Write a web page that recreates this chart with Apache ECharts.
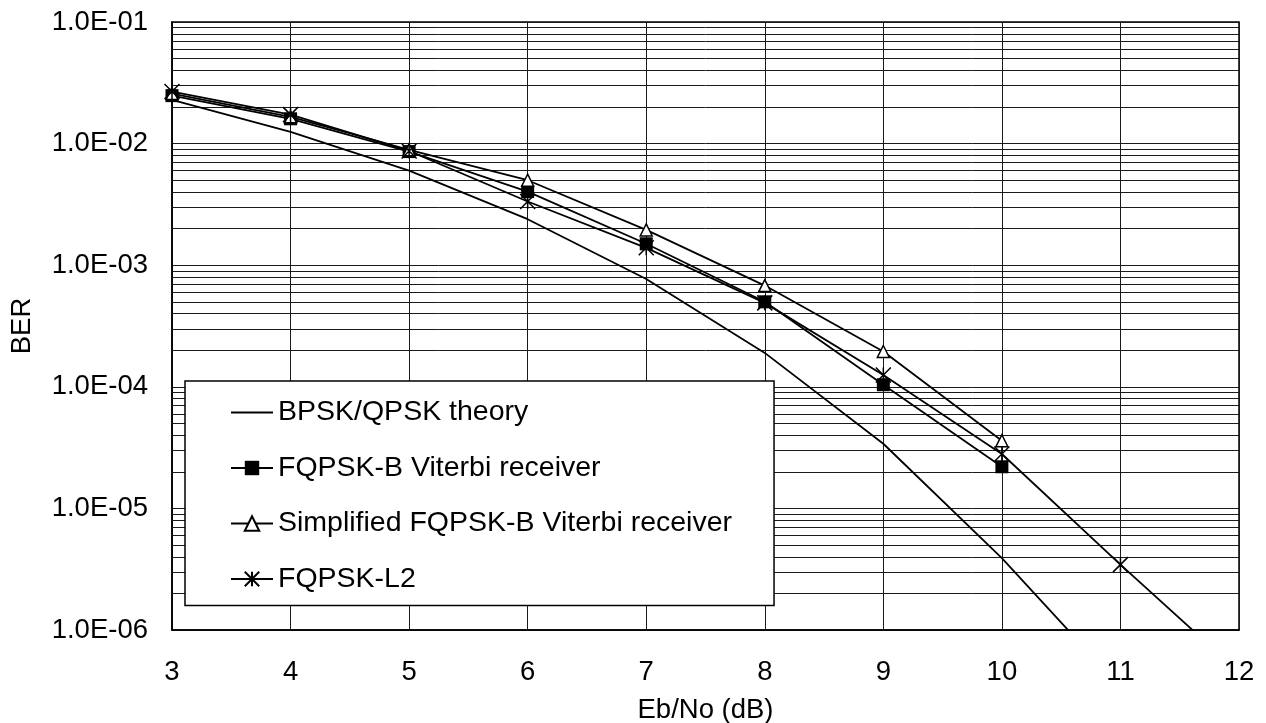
<!DOCTYPE html>
<html>
<head>
<meta charset="utf-8">
<script src="https://cdn.jsdelivr.net/npm/echarts@6/dist/echarts.min.js"></script>
<style>
  html, body { margin: 0; padding: 0; background: #fff; }
  #chart { width: 1266px; height: 723px; }
</style>
</head>
<body>
<div id="chart"></div>
<script>
  // Eb/No (dB) points
  var ebno = [3, 4, 5, 6, 7, 8, 9, 10, 11, 12];
  // BER values
  var bpskTheory = [0.0229, 0.0125, 0.0060, 0.00239, 7.7e-4, 1.9e-4, 3.4e-5, 3.9e-6, 3.4e-7];
  var viterbi    = [0.0248, 0.0160, 0.0086, 0.00403, 0.00150, 5.0e-4, 1.04e-4, 2.2e-5];
  var simplified = [0.0258, 0.0166, 0.0089, 0.0050, 0.00195, 6.8e-4, 1.95e-4, 3.6e-5];
  var fqpskL2    = [0.0268, 0.0173, 0.0087, 0.00334, 0.00139, 4.9e-4, 1.25e-4, 2.8e-5, 3.45e-6, 4.5e-7];
  var seriesNames = ['BPSK/QPSK theory', 'FQPSK-B Viterbi receiver', 'Simplified FQPSK-B Viterbi receiver', 'FQPSK-L2'];

  var font = '"Liberation Sans", Arial, sans-serif';

  function pairs(arr) {
    return arr.map(function (v, i) { return [ebno[i], v]; });
  }

  // log minor gridlines 2..9 in every decade
  var minorLines = [];
  for (var e = -6; e < -1; e++) {
    for (var m = 2; m <= 9; m++) minorLines.push({ yAxis: m * Math.pow(10, e) });
  }

  var chart = echarts.init(document.getElementById('chart'));
  chart.setOption({
    backgroundColor: '#fff',
    animation: false,
    textStyle: { fontFamily: font, color: '#000' },
    grid: {
      left: 172, top: 22, right: 27, bottom: 93,
      outerBoundsMode: 'none', containLabel: false,
      show: true, borderColor: '#000', borderWidth: 1.5, backgroundColor: 'transparent'
    },
    legend: {
      data: [
        { name: seriesNames[0], itemStyle: { opacity: 0 } },
        seriesNames[1], seriesNames[2], seriesNames[3]
      ],
      orient: 'vertical',
      left: 185, top: 381,
      padding: [17, 42, 12, 45],
      itemWidth: 42, itemHeight: 18, itemGap: 26.5,
      backgroundColor: '#fff',
      borderColor: '#000', borderWidth: 1.5,
      textStyle: { fontSize: 28.5, color: '#000', fontFamily: font }
    },
    xAxis: {
      type: 'value', min: 3, max: 12, interval: 1,
      name: 'Eb/No (dB)', nameLocation: 'middle', nameGap: 66,
      nameTextStyle: { fontSize: 27.5, color: '#000', fontFamily: font },
      axisLine: { show: true, lineStyle: { color: '#000', width: 1.5 } },
      axisTick: { show: false },
      axisLabel: { fontSize: 27.5, color: '#000', margin: 28, fontFamily: font },
      splitLine: { show: true, lineStyle: { color: '#1a1a1a', width: 1 } }
    },
    yAxis: {
      type: 'log', logBase: 10, min: 1e-6, max: 0.1, splitNumber: 5,
      name: 'BER', nameLocation: 'middle', nameGap: 136, nameRotate: 90,
      nameTextStyle: { fontSize: 27.5, color: '#000', fontFamily: font },
      axisLine: { show: true, lineStyle: { color: '#000', width: 1.5 } },
      axisTick: { show: false },
      axisLabel: {
        fontSize: 27.5, color: '#000', margin: 24, fontFamily: font,
        formatter: function (v) {
          var ex = Math.round(-Math.log10(v));
          return '1.0E-' + (ex < 10 ? '0' + ex : ex);
        }
      },
      splitLine: { show: true, lineStyle: { color: '#1a1a1a', width: 1 } }
    },
    series: [
      {
        name: 'gridMinor', type: 'line', data: [], z: 1,
        markLine: {
          silent: true, symbol: 'none', z: 1, precision: 12,
          label: { show: false },
          lineStyle: { color: '#1a1a1a', width: 1, type: 'solid' },
          data: minorLines
        }
      },
      {
        name: seriesNames[0], type: 'line', data: pairs(bpskTheory),
        symbol: 'none', clip: true,
        lineStyle: { color: '#000', width: 1.8 },
        itemStyle: { color: '#000', opacity: 0 }
      },
      {
        name: seriesNames[1], type: 'line', data: pairs(viterbi),
        symbol: 'rect', symbolSize: 13, clip: true,
        lineStyle: { color: '#000', width: 1.8 },
        itemStyle: { color: '#000', borderColor: '#000', borderWidth: 0 }
      },
      {
        name: seriesNames[2], type: 'line', data: pairs(simplified),
        symbol: 'triangle', symbolSize: 12, clip: true,
        lineStyle: { color: '#000', width: 1.8 },
        itemStyle: { color: '#fff', borderColor: '#000', borderWidth: 1.5 }
      },
      {
        name: seriesNames[3], type: 'line', data: pairs(fqpskL2),
        symbol: 'path://M0,0L10,10M10,0L0,10M5,0L5,10', symbolSize: 15, clip: true,
        lineStyle: { color: '#000', width: 1.8 },
        itemStyle: { color: '#000', borderColor: '#000', borderWidth: 1.5 }
      }
    ]
  });
</script>
</body>
</html>
